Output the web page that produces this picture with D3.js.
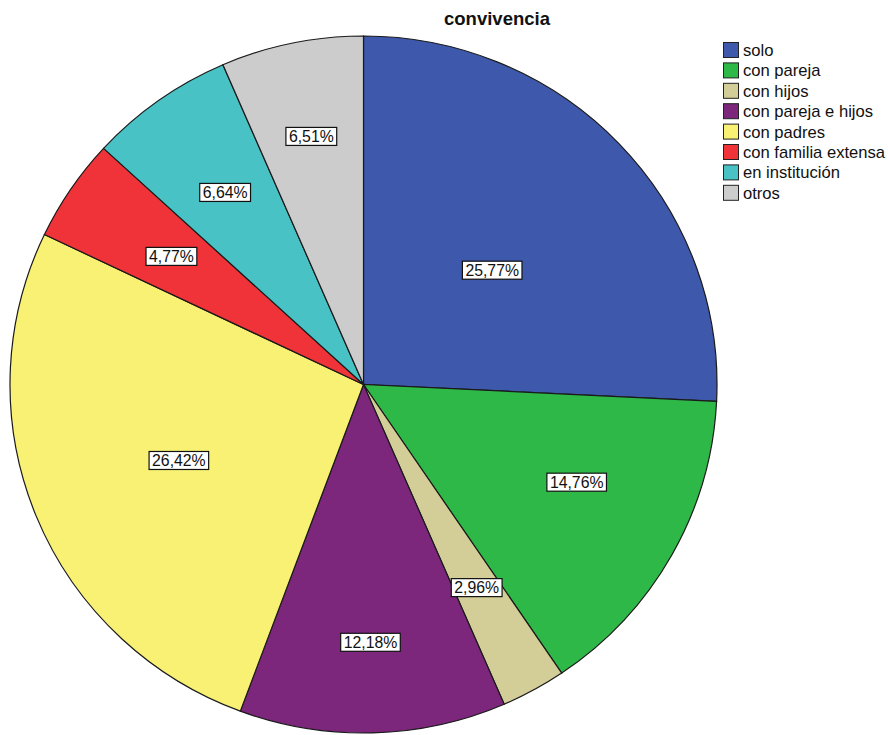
<!DOCTYPE html>
<html>
<head>
<meta charset="utf-8">
<script src="https://cdn.jsdelivr.net/npm/d3@7"></script>
<style>
  html, body { margin: 0; padding: 0; background: #ffffff; }
  svg { display: block; }
</style>
</head>
<body>
<svg id="chart" width="888" height="735"></svg>
<script>
// Convivencia: share of respondents by living arrangement
const categories = ["solo", "con pareja", "con hijos", "con pareja e hijos",
                    "con padres", "con familia extensa", "en institución", "otros"];
const percentages = [25.77, 14.76, 2.96, 12.18, 26.42, 4.77, 6.64, 6.51];
const sliceColors = ["#3E58AC", "#2EB848", "#D3CE97", "#7C277C",
                     "#F8F174", "#EF3338", "#48C2C5", "#CCCCCC"];
const chartTitle = "convivencia";

const data = categories.map((c, i) => ({ category: c, value: percentages[i] }));

const svg = d3.select("#chart");

// Pie geometry (slightly flattened vertically)
const cx = 363.5, cy = 384.5, rx = 353.5, ry = 348.5;
const sy = ry / rx;

const color = d3.scaleOrdinal().domain(categories).range(sliceColors);

const pie = d3.pie().sort(null).value(d => d.value);
const arcs = pie(data);
const arc = d3.arc().innerRadius(0).outerRadius(rx);

const g = svg.append("g").attr("transform", `translate(${cx},${cy}) scale(1,${sy})`);

g.selectAll("path.slice")
  .data(arcs)
  .join("path")
  .attr("class", "slice")
  .attr("d", arc)
  .attr("fill", d => color(d.data.category))
  .attr("stroke", "#1a1a1a")
  .attr("stroke-width", 1.2)
  .attr("vector-effect", "non-scaling-stroke");

// Label placement: radial distance (fraction of radius) and angular nudge (deg)
const labelLayout = {
  "solo": [0.49, 1.6],
  "con pareja": [0.665, -4.4],
  "con hijos": [0.665, 0],
  "con pareja e hijos": [0.74, 0],
  "con padres": [0.566, -0.6],
  "con familia extensa": [0.656, 0],
  "en institución": [0.676, 0],
  "otros": [0.727, 0]
};

const fmt = v => v.toFixed(2).replace(".", ",") + "%";

const labels = svg.append("g")
  .selectAll("g.lbl")
  .data(arcs)
  .join("g")
  .attr("class", "lbl")
  .attr("transform", d => {
    const [f, nudge] = labelLayout[d.data.category];
    const a = (d.startAngle + d.endAngle) / 2 + nudge * Math.PI / 180;
    const r = rx * f;
    const x = cx + r * Math.sin(a);
    const y = cy - r * Math.cos(a) * sy;
    return `translate(${x},${y})`;
  });

labels.append("text")
  .attr("text-anchor", "middle")
  .attr("dy", "0.36em")
  .attr("font-family", "Arial, 'Liberation Sans', sans-serif")
  .attr("font-size", 15.8)
  .attr("fill", "#111")
  .text(d => fmt(d.data.value));

labels.each(function() {
  const gEl = d3.select(this);
  const bb = gEl.select("text").node().getBBox();
  gEl.insert("rect", "text")
    .attr("x", bb.x - 3)
    .attr("y", -9)
    .attr("width", bb.width + 6)
    .attr("height", 18)
    .attr("fill", "#ffffff")
    .attr("stroke", "#111")
    .attr("stroke-width", 1.2);
});

// Title
svg.append("text")
  .attr("x", 497)
  .attr("y", 25)
  .attr("text-anchor", "middle")
  .attr("font-family", "Arial, 'Liberation Sans', sans-serif")
  .attr("font-weight", "bold")
  .attr("font-size", 18.5)
  .attr("fill", "#111")
  .text(chartTitle);

// Legend
const legend = svg.append("g").attr("transform", "translate(723,42)");
const rowH = 20.4;
const rows = legend.selectAll("g.row")
  .data(categories)
  .join("g")
  .attr("class", "row")
  .attr("transform", (d, i) => `translate(0,${i * rowH})`);

rows.append("rect")
  .attr("x", 0.5).attr("y", 0.5)
  .attr("width", 15).attr("height", 15)
  .attr("fill", d => color(d))
  .attr("stroke", "#222")
  .attr("stroke-width", 1);

rows.append("text")
  .attr("x", 20)
  .attr("y", 8)
  .attr("dy", "0.36em")
  .attr("font-family", "Arial, 'Liberation Sans', sans-serif")
  .attr("font-size", 16.6)
  .attr("fill", "#111")
  .text(d => d);
</script>
</body>
</html>
